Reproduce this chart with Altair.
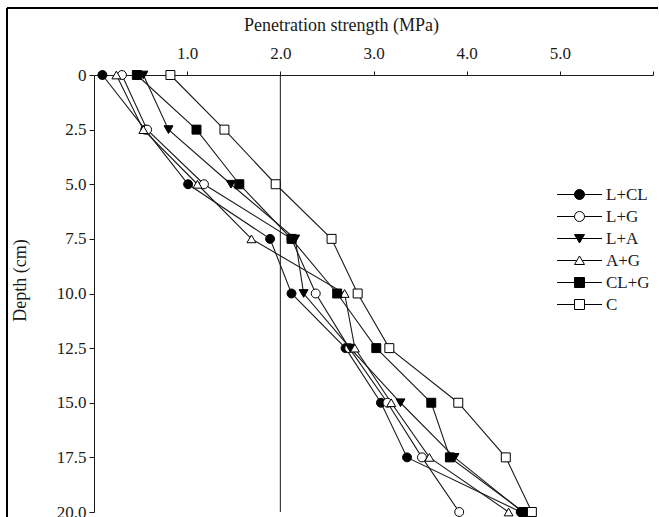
import altair as alt
import pandas as pd

# ---- data ----
depth = [0, 2.5, 5.0, 7.5, 10.0, 12.5, 15.0, 17.5, 20.0]
series_names = ["L+CL", "L+G", "L+A", "A+G", "CL+G", "C"]
l_cl = [0.09, 0.55, 1.01, 1.89, 2.12, 2.70, 3.08, 3.36, 4.58]
l_g = [0.30, 0.57, 1.18, 2.12, 2.38, 2.74, 3.15, 3.52, 3.92]
l_a = [0.53, 0.80, 1.47, 2.16, 2.25, 2.75, 3.29, 3.87, 4.60]
a_g = [0.24, 0.53, 1.11, 1.69, 2.69, 2.80, 3.19, 3.60, 4.45]
cl_g = [0.46, 1.10, 1.56, 2.12, 2.61, 3.03, 3.62, 3.82, 4.61]
c = [0.82, 1.40, 1.95, 2.55, 2.83, 3.17, 3.91, 4.42, 4.70]
x_tick_values = [1, 2, 3, 4, 5, 6]
y_tick_values = depth
reference_strength = [2.0]

rows = []
for name, vals in zip(series_names, [l_cl, l_g, l_a, a_g, cl_g, c]):
    for d, v in zip(depth, vals):
        rows.append({"series": name, "depth": d, "strength": v})
df = pd.DataFrame(rows)
ref_df = pd.DataFrame({"strength": reference_strength})

FONT = "Liberation Serif"
INK = "#1a1a1a"

plot_shapes = ["circle", "circle", "triangle-down", "triangle-up", "square", "square"]
fills = ["black", "white", "black", "white", "black", "white"]
strokes = ["black"] * 6

circ = "M-4.5,0H-1M1,0H4.5M1,0A1,1,0,1,1,-1,0A1,1,0,1,1,1,0Z"
tri_dn = "M-4.5,0H-0.55M0.55,0H4.5M-1,-0.8L1,-0.8L0,0.9Z"
tri_up = "M-4.5,0H-0.55M0.55,0H4.5M0,-0.9L1,0.8L-1,0.8Z"
sq = "M-4.5,0H-1M1,0H4.5M-1,-1H1V1H-1Z"
legend_shapes = [circ, circ, tri_dn, tri_up, sq, sq]

x_enc = alt.X(
    "strength:Q",
    scale=alt.Scale(domain=[0, 6], nice=False, zero=False),
    axis=alt.Axis(
        orient="top",
        values=x_tick_values,
        title="Penetration strength (MPa)",
        labelExpr="datum.value <= 5 ? format(datum.value, '.1f') : ''",
        grid=False,
        tickSize=4,
        labelPadding=9,
        titleX=247,
        titleY=-50,
        titleAlign="center",
        titleBaseline="middle",
    ),
)
y_enc = alt.Y(
    "depth:Q",
    scale=alt.Scale(domain=[0, 20], reverse=True, nice=False, zero=False),
    axis=alt.Axis(
        values=y_tick_values,
        title="Depth (cm)",
        labelExpr="datum.value == 0 ? '0' : format(datum.value, '.1f')",
        grid=False,
        tickSize=5,
        labelPadding=3,
        titleX=-74,
        titleY=205,
        titleAlign="center",
        titleBaseline="middle",
        titleAngle=270,
    ),
)

base = alt.Chart(df)

lines = base.mark_line(color=INK, strokeWidth=1.1).encode(
    x=x_enc, y=y_enc, detail="series:N", order="depth:Q"
)

points = base.mark_point(filled=True, size=80, stroke="black", strokeWidth=1, opacity=1).encode(
    x="strength:Q",
    y="depth:Q",
    shape=alt.Shape("series:N", scale=alt.Scale(domain=series_names, range=plot_shapes), legend=None),
    fill=alt.Fill("series:N", scale=alt.Scale(domain=series_names, range=fills), legend=None),
)

legend_props = dict(
    title=None,
    orient="none",
    legendX=477,
    legendY=111,
    labelFont=FONT,
    labelFontSize=17,
    labelColor=INK,
    labelOffset=18,
    rowPadding=4,
    padding=0,
    symbolStrokeWidth=1,
)

legend_layer = base.transform_filter("false").mark_point(
    filled=True, size=81, strokeWidth=1, opacity=1
).encode(
    x="strength:Q",
    y="depth:Q",
    shape=alt.Shape(
        "series:N",
        scale=alt.Scale(domain=series_names, range=legend_shapes),
        legend=alt.Legend(**legend_props),
    ),
    fill=alt.Fill(
        "series:N",
        scale=alt.Scale(domain=series_names, range=fills),
        legend=alt.Legend(**legend_props),
    ),
    stroke=alt.Stroke(
        "series:N",
        scale=alt.Scale(domain=series_names, range=strokes),
        legend=alt.Legend(**legend_props),
    ),
)

rule = alt.Chart(ref_df).mark_rule(color=INK, strokeWidth=1).encode(x="strength:Q")

frame_df = pd.DataFrame({"k": [0]})
frame_top = alt.Chart(frame_df).mark_rule(color="black", strokeWidth=2).encode(
    x=alt.value(-87), x2=alt.value(600), y=alt.value(-67)
)
frame_left = alt.Chart(frame_df).mark_rule(color="black", strokeWidth=2).encode(
    x=alt.value(-87), y=alt.value(-67), y2=alt.value(460)
)

chart = (
    alt.layer(frame_top, frame_left, rule, lines, points, legend_layer)
    .resolve_scale(shape="independent", fill="independent", stroke="independent")
    .properties(
        width=559,
        height=437,
        autosize=alt.AutoSizeParams(type="none"),
        padding={"left": 94, "top": 75, "right": 5, "bottom": 5},
        background="white",
    )
    .configure_view(stroke=None)
    .configure_axis(
        domainColor=INK,
        tickColor=INK,
        labelColor=INK,
        titleColor=INK,
        labelFont=FONT,
        titleFont=FONT,
        labelFontSize=17,
        titleFontSize=18,
        titleFontWeight="normal",
        domainWidth=1,
        tickWidth=1,
    )
)

chart.save("out.html", embed_options={"renderer": "svg", "actions": False})
